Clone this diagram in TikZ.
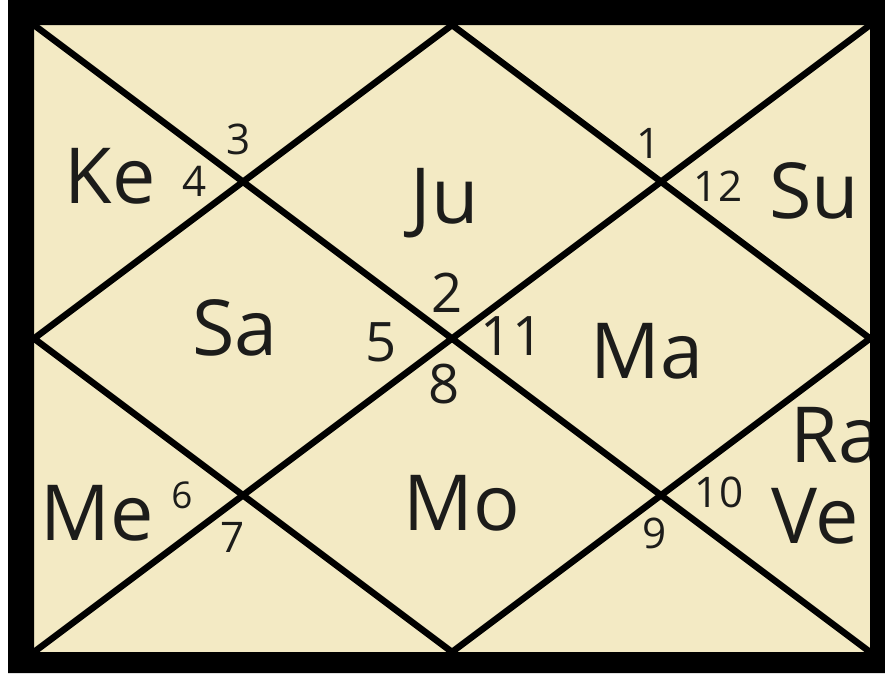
\documentclass[tikz,border=0pt]{standalone}
\usepackage{fontspec}
\setmainfont{Open Sans}
\definecolor{chartbg}{RGB}{243,234,196}
\definecolor{ink}{RGB}{28,28,26}
\begin{document}
\begin{tikzpicture}[x=0.02cm, y=-0.02cm,
  planet/.style={font=\fontsize{44}{44}\selectfont, text=ink, inner sep=0pt, anchor=base},
  house/.style={font=\fontsize{24}{24}\selectfont, text=ink, inner sep=0pt},
  midhouse/.style={font=\fontsize{31}{31}\selectfont, text=ink, inner sep=0pt},
  chartline/.style={line width=3.7pt}]
  \useasboundingbox (0,0) rectangle (885,673);
  \fill[chartbg] (34,25) rectangle (870,652);
  % corners and side midpoints
  \coordinate (tl) at (34,25);
  \coordinate (tr) at (870,25);
  \coordinate (bl) at (34,652);
  \coordinate (br) at (870,652);
  \coordinate (tm) at (452,25);
  \coordinate (rm) at (870,338.5);
  \coordinate (bm) at (452,652);
  \coordinate (lm) at (34,338.5);
  \draw[chartline] (tl) -- (br) (tr) -- (bl);
  \draw[chartline] (tm) -- (rm) -- (bm) -- (lm) -- cycle;
  % planets
  \node[planet] (ke) at (110,203) {Ke};
  \node[planet] (ju) at (445,223) {Ju};
  \node[planet] (su) at (814,218) {Su};
  \node[planet] (sa) at (235,355) {Sa};
  \node[planet] (ma) at (647,378) {Ma};
  \node[planet] (mo) at (462,530) {Mo};
  \node[planet] (me) at (97,540) {Me};
  \node[planet, anchor=base west] (ra) at (790,462) {Ra};
  \node[planet, anchor=base west] (ve) at (771,543) {Ve};
  % house numbers
  \node[house] (h1) at (649,143) {1};
  \node[house] (h12) at (718,186) {12};
  \node[house] (h3) at (239,139) {3};
  \node[house] (h4) at (195,181) {4};
  \node[house, font=\fontsize{21}{21}\selectfont] (h6) at (182,495) {6};
  \node[house] (h7) at (233,537) {7};
  \node[house] (h10) at (719,492) {10};
  \node[house] (h9) at (655,533) {9};
  \node[midhouse] (h2) at (447,293) {2};
  \node[midhouse] (h5) at (381,342) {5};
  \node[midhouse] (h11) at (512,336) {11};
  \node[midhouse] (h8) at (444,384) {8};
  % frame
  \fill[black, even odd rule] (8,0) rectangle (885,673) (34,25) rectangle (870,652);
\end{tikzpicture}
\end{document}
